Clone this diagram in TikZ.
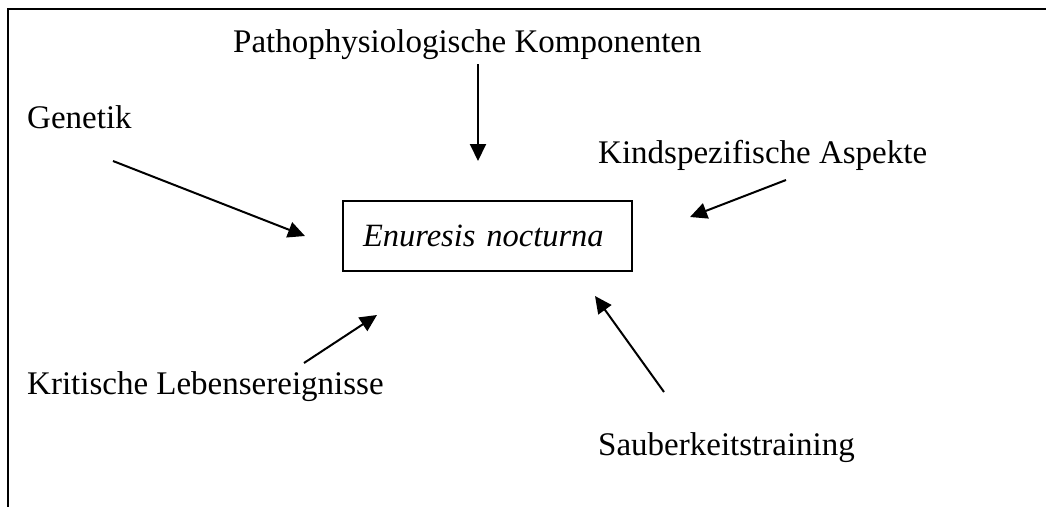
\documentclass[tikz,border=0pt]{standalone}
\usepackage{fontspec}
\setmainfont{Liberation Serif}
\usetikzlibrary{arrows.meta}
\begin{document}
\begin{tikzpicture}[x=1pt,y=-1pt,
  lbl/.style={anchor=base west, inner sep=0pt, font=\fontsize{33}{40}\selectfont},
  arr/.style={line width=2pt, -{Triangle[length=17pt,width=16pt]}},
  frame/.style={line width=2.2pt, line cap=rect}]
\useasboundingbox (0,0) rectangle (1046,506);
\draw[frame] (8,510) -- (8,9) -- (1046,9);
\node[draw, line width=1.5pt, minimum width=289pt, minimum height=70pt, inner xsep=20pt,
  text width=249pt, align=left, font=\fontsize{32.5}{40}\selectfont\itshape]
  (box) at (487.5,236) {Enuresis nocturna};
\node[lbl] (patho) at (233,52) {Pathophysiologische Komponenten};
\node[lbl] (gen) at (27,128) {Genetik};
\node[lbl] (kind) at (598,163) {Kindspezifische Aspekte};
\node[lbl] (krit) at (27,394) {Kritische Lebensereignisse};
\node[lbl] (saub) at (598,455) {Sauberkeitstraining};
\coordinate (p1) at (478,64);  \coordinate (p2) at (478,161);
\coordinate (g1) at (113,161); \coordinate (g2) at (305,236);
\coordinate (k1) at (786,180); \coordinate (k2) at (690,217);
\coordinate (r1) at (304,363); \coordinate (r2) at (377,315);
\coordinate (s1) at (664,392); \coordinate (s2) at (595,296);
\draw[arr] (p1) -- (p2);
\draw[arr] (g1) -- (g2);
\draw[arr] (k1) -- (k2);
\draw[arr] (r1) -- (r2);
\draw[arr] (s1) -- (s2);
\end{tikzpicture}
\end{document}
